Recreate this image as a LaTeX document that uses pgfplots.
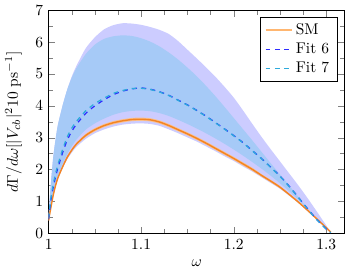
\documentclass[border=0pt]{standalone}
\usepackage{pgfplots}
\usepackage{pgfplotstable}
\pgfplotsset{compat=1.18}
\usepgfplotslibrary{fillbetween}
\definecolor{lav}{RGB}{204,204,255}
\definecolor{lblue}{RGB}{166,202,247}
\definecolor{smorange}{RGB}{243,132,36}
\definecolor{smband}{RGB}{252,192,140}
\definecolor{smleg}{RGB}{255,182,112}
\definecolor{fitsix}{RGB}{45,45,255}
\definecolor{fitseven}{RGB}{45,170,220}
\pgfplotstableread{
w      sm    smlo  smhi  f6    f6lo  f6hi  f7    f7lo  f7hi
1.000  0.40  0.39  0.41  0.45  0.39  0.60  0.48  0.45  0.60
1.001  0.58  0.57  0.59  0.70  0.57  1.00  0.75  0.62  1.00
1.0025 0.82  0.80  0.84  1.05  0.80  1.60  1.12  0.86  1.60
1.005  1.20  1.18  1.22  1.45  1.18  2.40  1.54  1.24  2.40
1.0075 1.50  1.47  1.53  1.78  1.47  2.95  1.88  1.55  2.95
1.010  1.74  1.71  1.77  2.05  1.70  3.40  2.15  1.80  3.40
1.015  2.08  2.05  2.11  2.52  2.03  4.00  2.62  2.17  4.00
1.020  2.38  2.34  2.42  2.92  2.32  4.50  3.02  2.48  4.50
1.025  2.61  2.57  2.65  3.20  2.53  4.92  3.30  2.73  4.88
1.030  2.80  2.76  2.84  3.42  2.71  5.25  3.51  2.94  5.18
1.040  3.07  3.02  3.12  3.76  2.96  5.80  3.84  3.25  5.62
1.050  3.25  3.20  3.30  4.00  3.14  6.15  4.07  3.45  5.92
1.060  3.38  3.33  3.43  4.19  3.26  6.40  4.24  3.60  6.10
1.070  3.47  3.42  3.52  4.35  3.35  6.53  4.39  3.72  6.18
1.080  3.53  3.48  3.58  4.46  3.41  6.59  4.48  3.80  6.21
1.090  3.57  3.52  3.62  4.53  3.44  6.58  4.54  3.84  6.19
1.100  3.58  3.53  3.63  4.56  3.45  6.54  4.55  3.85  6.12
1.110  3.56  3.51  3.61  4.52  3.43  6.47  4.51  3.83  6.01
1.120  3.49  3.44  3.54  4.44  3.37  6.38  4.43  3.77  5.86
1.130  3.38  3.33  3.43  4.33  3.26  6.25  4.32  3.68  5.67
1.140  3.25  3.20  3.30  4.18  3.14  6.03  4.17  3.56  5.45
1.150  3.12  3.07  3.17  4.03  3.01  5.76  4.02  3.43  5.20
1.160  2.98  2.93  3.03  3.86  2.88  5.49  3.85  3.29  4.93
1.170  2.83  2.78  2.88  3.68  2.73  5.21  3.67  3.14  4.63
1.180  2.67  2.62  2.72  3.48  2.58  4.92  3.47  2.98  4.31
1.190  2.51  2.46  2.56  3.28  2.42  4.60  3.27  2.81  3.97
1.200  2.35  2.30  2.40  3.07  2.27  4.26  3.06  2.63  3.62
1.210  2.18  2.13  2.23  2.85  2.10  3.86  2.84  2.44  3.27
1.220  2.01  1.96  2.06  2.60  1.94  3.44  2.59  2.24  2.92
1.230  1.82  1.78  1.86  2.35  1.76  3.03  2.34  2.03  2.56
1.240  1.64  1.60  1.68  2.08  1.58  2.64  2.07  1.81  2.20
1.250  1.45  1.41  1.49  1.80  1.40  2.26  1.79  1.57  1.85
1.260  1.22  1.19  1.25  1.48  1.18  1.88  1.47  1.32  1.50
1.270  0.98  0.95  1.01  1.13  0.95  1.50  1.12  1.05  1.14
1.280  0.72  0.70  0.74  0.77  0.69  1.10  0.76  0.77  0.78
1.290  0.45  0.43  0.47  0.43  0.43  0.68  0.42  0.47  0.44
1.300  0.18  0.17  0.19  0.14  0.17  0.25  0.13  0.17  0.13
1.305  0.04  0.03  0.05  0.02  0.03  0.02  0.02  0.03  0.02
}\data
\begin{document}
\begin{tikzpicture}
\begin{axis}[
  scale only axis,
  width=191pt, height=144pt,
  xmin=1, xmax=1.32, ymin=0, ymax=7,
  xtick={1,1.1,1.2,1.3},
  xticklabels={1,1.1,1.2,1.3},
  ytick={0,1,2,3,4,5,6,7},
  minor x tick num=3,
  minor y tick num=1,
  xlabel={$\omega$},
  ylabel={$d\Gamma/d\omega[|V_{cb}|^2 10~\mathrm{ps}^{-1}]$},
  ylabel shift=2pt,
  legend style={at={(0.975,0.97)}, anchor=north east, draw=black},
  legend cell align=left,
]
\addplot[draw=none, smooth, tension=0.4, name path=Ahi, forget plot] table[x=w,y=f6hi]{\data};
\addplot[draw=none, smooth, tension=0.4, name path=Alo, forget plot] table[x=w,y=f6lo]{\data};
\addplot[fill=lav, draw=none, forget plot] fill between[of=Ahi and Alo];
\addplot[draw=none, smooth, tension=0.4, name path=Bhi, forget plot] table[x=w,y=f7hi]{\data};
\addplot[draw=none, smooth, tension=0.4, name path=Blo, forget plot] table[x=w,y=f7lo]{\data};
\addplot[fill=lblue, draw=none, forget plot] fill between[of=Bhi and Blo];
\addplot[draw=none, smooth, tension=0.4, name path=Chi, forget plot] table[x=w,y=smhi]{\data};
\addplot[draw=none, smooth, tension=0.4, name path=Clo, forget plot] table[x=w,y=smlo]{\data};
\addplot[fill=smband, draw=none, forget plot] fill between[of=Chi and Clo];
\addplot[smorange, line width=0.9pt, smooth, tension=0.4, legend image post style={smleg}] table[x=w,y=sm]{\data};
\addlegendentry{SM}
\addplot[fitsix, dashed, line width=0.8pt, smooth, tension=0.4] table[x=w,y=f6]{\data};
\addlegendentry{Fit 6}
\addplot[fitseven, dashed, line width=0.8pt, smooth, tension=0.4] table[x=w,y=f7]{\data};
\addlegendentry{Fit 7}
\end{axis}
\end{tikzpicture}
\end{document}
